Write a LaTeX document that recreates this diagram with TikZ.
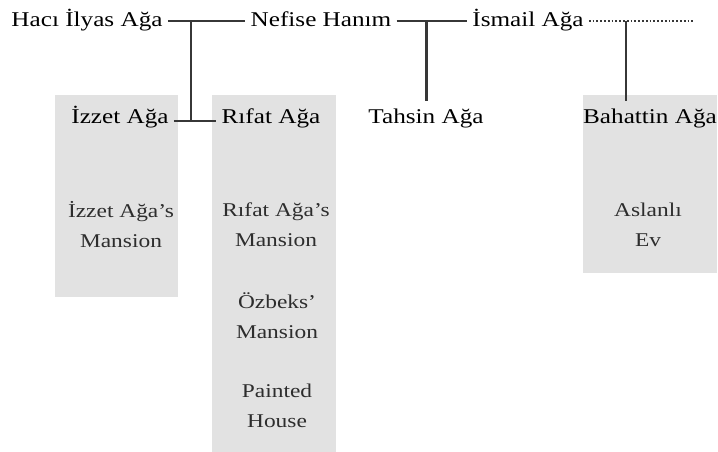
\documentclass[tikz,border=0pt]{standalone}
\usepackage{fontspec}
\setmainfont{Liberation Serif}[FakeStretch=1.2]
\usetikzlibrary{calc}
\definecolor{boxgray}{RGB}{226,226,226}
\definecolor{lineink}{RGB}{55,55,55}
\definecolor{houseink}{RGB}{45,45,45}
\tikzset{
  person/.style={inner xsep=5pt, inner ysep=0pt, text height=15pt, text depth=3pt,
    font=\fontsize{21}{24}\selectfont, text=black},
  heir/.style={person, text height=12pt, text depth=7pt, inner ysep=10pt},
  house/.style={align=center, inner sep=0pt, font=\fontsize{19.5}{30}\selectfont, text=houseink},
  estate/.style={fill=boxgray, draw=none, inner sep=0pt, anchor=north west},
  kin/.style={line width=2.1pt, lineink},
  descent/.style={line width=2.8pt, lineink},
  kinopen/.style={line width=1.8pt, lineink, dash pattern=on 1.8pt off 2pt}
}

\begin{document}
\begin{tikzpicture}[x=1pt,y=-1pt]
\useasboundingbox (0,0) rectangle (718,452);

\node[estate, minimum width=123pt, minimum height=202pt] (izzetbox) at (55,95) {};
\node[estate, minimum width=124pt, minimum height=357pt] (rifatbox) at (212,95) {};
\node[estate, minimum width=134pt, minimum height=178pt] (bahattinbox) at (583,95) {};

\node[person] (haci) at (87,21) {Hacı İlyas Ağa};
\node[person] (nefise) at (321,21) {Nefise Hanım};
\node[person] (ismail) at (528,21) {İsmail Ağa};
\coordinate (ismailend) at (695,21);

\node[heir] (izzet) at (120,121) {İzzet Ağa};
\node[heir] (rifat) at (271,121) {Rıfat Ağa};
\node[heir] (tahsin) at (426,121) {Tahsin Ağa};
\node[heir] (bahattin) at (650,121) {Bahattin Ağa};

\node[house] (izzetmansion) at (121,225) {İzzet Ağa’s\\Mansion};
\node[house] (rifatmansion) at (276,225) {Rıfat Ağa’s\\Mansion};
\node[house] (ozbeks) at (277,316) {Özbeks’\\Mansion};
\node[house] (painted) at (277,406) {Painted\\House};
\node[house] (aslanli) at (648,225) {Aslanlı\\Ev};

\draw[kin] (haci.east) -- (nefise.west);
\draw[kin] (nefise.east) -- (ismail.west);
\draw[kinopen] (ismail.east) -- (ismailend);
\draw[kin] (izzet.east) -- (rifat.west);

\coordinate (hn) at ($(haci.east)!0.3!(nefise.west)$);
\coordinate (ni) at ($(nefise.east)!0.42!(ismail.west)$);
\coordinate (ib) at ($(ismail.east)!0.35!(ismailend)$);
\draw[descent] (hn) -- (hn |- izzet.east);
\draw[descent] (ni) -- (ni |- tahsin.north);
\draw[descent] (ib) -- (ib |- bahattin.north);
\end{tikzpicture}
\end{document}
